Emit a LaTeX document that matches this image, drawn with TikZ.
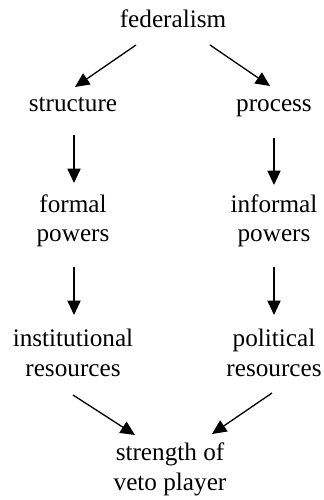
\documentclass[tikz,border=0pt]{standalone}
\usepackage{fontspec}
\setmainfont{Liberation Serif}
\usetikzlibrary{arrows.meta, calc}
\tikzset{
  term/.style={anchor=base, align=center, inner sep=0pt,
    font=\fontsize{12.65}{14.8}\selectfont},
  flowarrow/.style={-{Triangle[length=7.2bp, width=6.6bp]}, line width=0.65bp}
}

\begin{document}
\begin{tikzpicture}[x=0.5bp, y=-0.5bp]
  \useasboundingbox (0,0) rectangle (323,500);

  % base of a two-line node is its last line
  \node[term] (fed)    at (173,28)  {federalism};
  \node[term] (struct) at (73,112)  {structure};
  \node[term] (proc)   at (274,112) {process};
  \node[term] (formal) at (73,242)  {formal\\powers};
  \node[term] (inform) at (274,242) {informal\\powers};
  \node[term] (instit) at (73,376)  {institutional\\resources};
  \node[term] (polit)  at (274,376) {political\\resources};
  \node[term] (veto)   at (170,490) {strength of\\veto player};

  % top split
  \draw[flowarrow] ($(fed.base)+(-37,17)$) -- ($(struct.base)+(2,-25)$);
  \draw[flowarrow] ($(fed.base)+(37,17)$)  -- ($(proc.base)+(-4,-26)$);
  % left column
  \draw[flowarrow] ($(struct.base)+(1,23)$) -- ($(formal.base)+(1,-59)$);
  \draw[flowarrow] ($(formal.base)+(1,25)$) -- ($(instit.base)+(1,-61)$);
  % right column
  \draw[flowarrow] ($(proc.base)+(0,26)$)   -- ($(inform.base)+(0,-57)$);
  \draw[flowarrow] ($(inform.base)+(0,25)$) -- ($(polit.base)+(0,-61)$);
  % bottom merge
  \draw[flowarrow] ($(instit.base)+(0,19)$) -- ($(veto.base)+(-35,-55)$);
  \draw[flowarrow] ($(polit.base)+(-2,17)$) -- ($(veto.base)+(42,-56)$);
\end{tikzpicture}
\end{document}
